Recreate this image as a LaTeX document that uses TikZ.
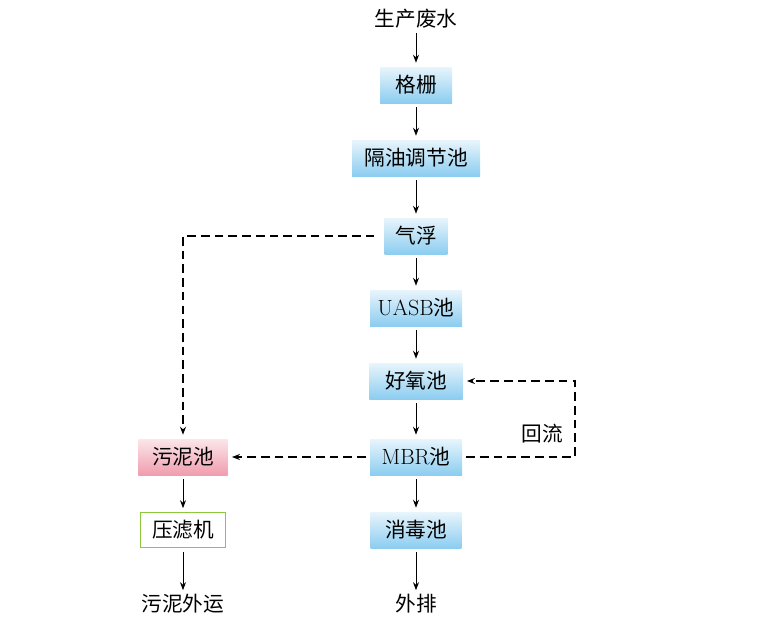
\documentclass[tikz,border=0pt]{standalone}
\usepackage{fontspec}
\newfontfamily\cjk{Noto Sans CJK SC}
\usetikzlibrary{arrows.meta}
\definecolor{bluetop}{HTML}{E8F5FC}
\definecolor{bluebot}{HTML}{8CCDF0}
\definecolor{pinktop}{HTML}{FBE6EA}
\definecolor{pinkbot}{HTML}{F09DAE}
\definecolor{greenline}{HTML}{8DC63F}
\tikzset{
  txt/.style={font=\fontsize{15.5}{18}\selectfont},
  bluebox/.style={txt, top color=bluetop, bottom color=bluebot, draw=none,
    minimum height=27pt, inner sep=0pt},
  pinkbox/.style={txt, top color=pinktop, bottom color=pinkbot, draw=none,
    minimum height=27pt, inner sep=0pt},
  greenbox/.style={txt, draw=greenline, line width=0.7pt, fill=white,
    minimum height=26pt, inner sep=0pt},
  plain/.style={txt, inner sep=0pt},
  flow/.style={-{Stealth[length=6pt,width=4.5pt]}, line width=0.75pt, shorten >=3pt, shorten <=3pt},
  dflow/.style={-{Stealth[length=6pt,width=4.5pt]}, line width=0.8pt, dash pattern=on 6.5pt off 3.8pt}
}
\newcommand{\lat}[1]{{\fontsize{16.5}{18}\selectfont #1}}
\begin{document}
\begin{tikzpicture}[x=0.75pt,y=-0.75pt]
\useasboundingbox (0,0) rectangle (769,628);
\node[plain] (src) at (416,19) {\cjk 生产废水};
\node[bluebox, minimum width=54pt] (gs) at (416,85) {\cjk 格栅};
\node[bluebox, minimum width=96pt] (gy) at (416,158) {\cjk 隔油调节池};
\node[bluebox, minimum width=47pt] (qf) at (416,236) {\cjk 气浮};
\node[bluebox, minimum width=69pt] (uasb) at (416,308) {\lat{UASB}{\cjk 池}};
\node[bluebox, minimum width=70pt] (hy) at (416,381) {\cjk 好氧池};
\node[bluebox, minimum width=69pt] (mbr) at (416,457) {\lat{MBR}{\cjk 池}};
\node[bluebox, minimum width=68pt] (xd) at (416,530) {\cjk 消毒池};
\node[plain] (wp) at (416,604) {\cjk 外排};
\node[pinkbox, minimum width=67pt] (wn) at (183,457) {\cjk 污泥池};
\node[greenbox, minimum width=64pt] (yl) at (183,530) {\cjk 压滤机};
\node[plain] (wy) at (183,604) {\cjk 污泥外运};
\node[plain] (hl) at (542,434) {\cjk 回流};
\coordinate (c1) at (183,236);
\coordinate (c2) at (575,381);
\coordinate (c3) at (575,457);

\draw[flow] (src) -- (gs);
\draw[flow] (gs) -- (gy);
\draw[flow] (gy) -- (qf);
\draw[flow] (qf) -- (uasb);
\draw[flow] (uasb) -- (hy);
\draw[flow] (hy) -- (mbr);
\draw[flow] (mbr) -- (xd);
\draw[flow] (xd) -- (wp);
\draw[flow] (wn) -- (yl);
\draw[flow] (yl) -- (wy);
\draw[dflow, shorten >=3pt] (qf.west) ++(-10,0) -- (c1) -- (wn.north);
\draw[dflow, shorten >=3pt] (mbr.west) ++(-4,0) -- (wn.east);
\draw[dflow, shorten >=3pt] (mbr.east) ++(4,0) -- (c3) -- (c2) -- (hy.east);
\end{tikzpicture}
\end{document}
